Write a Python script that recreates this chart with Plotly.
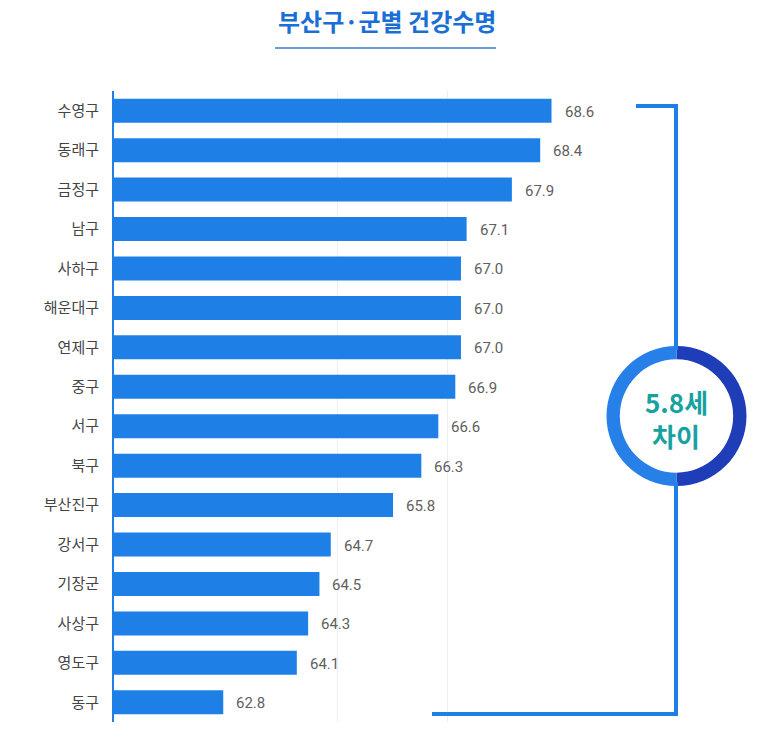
import plotly.graph_objects as go

districts = ["수영구", "동래구", "금정구", "남구", "사하구", "해운대구", "연제구", "중구",
             "서구", "북구", "부산진구", "강서구", "기장군", "사상구", "영도구", "동구"]
life_years = [68.6, 68.4, 67.9, 67.1, 67.0, 67.0, 67.0, 66.9,
              66.6, 66.3, 65.8, 64.7, 64.5, 64.3, 64.1, 62.8]
gap_label = ["5.8세", "차이"]
ring_split = [50, 50]

W, H = 769, 737
def px(x):
    return x / W
def py(y):
    return 1 - y / H

BLUE = "#1e80e6"
x0 = 60.87
scale = 56.6
left_px, right_px = 114, 640
x_range = [x0, x0 + (right_px - left_px) / scale]

fig = go.Figure()
fig.add_trace(go.Bar(
    x=life_years, y=districts, orientation="h",
    marker=dict(color=BLUE, line=dict(width=0)),
    hoverinfo="skip", showlegend=False,
))

for d, v in zip(districts, life_years):
    fig.add_annotation(x=v, y=d, xref="x", yref="y", text=f"{v:.1f}",
                       showarrow=False, xanchor="left", yanchor="middle", xshift=11, yshift=-1,
                       font=dict(family="Roboto", size=15, color="#606060"))

fig.add_trace(go.Pie(
    values=ring_split, hole=0.81, sort=False, direction="clockwise", rotation=0,
    marker=dict(colors=["#1f3db8", "#2680e8"], line=dict(width=0)),
    textinfo="none", hoverinfo="skip", showlegend=False,
    domain=dict(x=[px(605), px(748)], y=[py(486), py(346)]),
))

shapes = [
    dict(type="line", xref="paper", yref="paper", x0=px(636), x1=px(677), y0=py(106), y1=py(106),
         line=dict(color=BLUE, width=4)),
    dict(type="line", xref="paper", yref="paper", x0=px(676), x1=px(676), y0=py(104), y1=py(350),
         line=dict(color=BLUE, width=4)),
    dict(type="line", xref="paper", yref="paper", x0=px(676), x1=px(676), y0=py(482), y1=py(716),
         line=dict(color=BLUE, width=4)),
    dict(type="line", xref="paper", yref="paper", x0=px(432), x1=px(678), y0=py(714), y1=py(714),
         line=dict(color=BLUE, width=4)),
    dict(type="line", xref="paper", yref="paper", x0=px(275), x1=px(496), y0=py(48), y1=py(48),
         line=dict(color="#3a78d0", width=1.5)),
]

fig.add_annotation(x=px(387), y=py(21), xref="paper", yref="paper", showarrow=False,
                   xanchor="center", yanchor="middle",
                   text="<b>부산구·군별 건강수명</b>",
                   font=dict(family="Noto Sans CJK KR", size=24, color="#1a6fd6"))
fig.add_annotation(x=px(676), y=py(402), xref="paper", yref="paper", showarrow=False,
                   xanchor="center", yanchor="middle",
                   text=f"<b>{gap_label[0]}</b>",
                   font=dict(family="Noto Sans CJK KR", size=26, color="#17a2a2"))
fig.add_annotation(x=px(676), y=py(435), xref="paper", yref="paper", showarrow=False,
                   xanchor="center", yanchor="middle",
                   text=f"<b>{gap_label[1]}</b>",
                   font=dict(family="Noto Sans CJK KR", size=26, color="#17a2a2"))

fig.update_layout(
    width=W, height=H,
    margin=dict(l=0, r=0, t=0, b=0),
    paper_bgcolor="white", plot_bgcolor="white",
    bargap=0.39,
    shapes=shapes,
    xaxis=dict(domain=[px(left_px), px(right_px)], range=x_range,
               tickvals=[x0 + (337 - left_px) / scale, x0 + (447 - left_px) / scale],
               showticklabels=False, showgrid=True, gridcolor="#eeeeee", gridwidth=1,
               zeroline=False, showline=False, fixedrange=True),
    yaxis=dict(domain=[py(722), py(91)], autorange="reversed",
               showline=True, linecolor=BLUE, linewidth=2,
               ticks="", ticklabelstandoff=10,
               tickfont=dict(family="Noto Sans CJK KR", size=15, color="#444444"),
               showgrid=False, zeroline=False, fixedrange=True),
)

fig.write_html("out.html")
